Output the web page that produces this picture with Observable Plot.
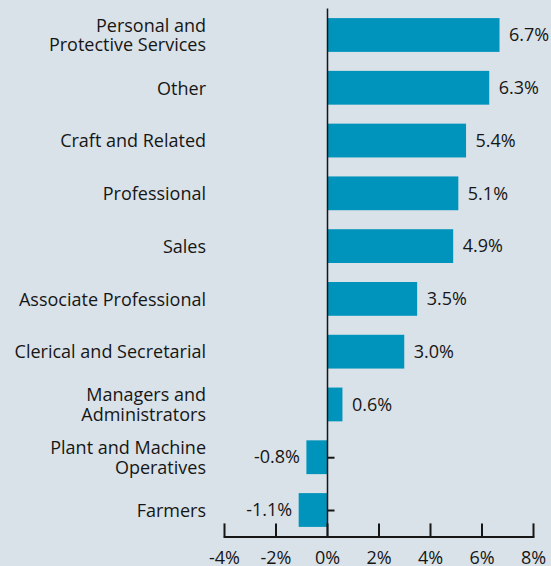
<!DOCTYPE html>
<html>
<head>
<meta charset="utf-8">
<script src="https://cdn.jsdelivr.net/npm/d3@7"></script>
<script src="https://cdn.jsdelivr.net/npm/@observablehq/plot@0.6"></script>
<style>
  html, body { margin: 0; padding: 0; background: #d9e2e8; }
  #chart svg { display: block; }
</style>
</head>
<body>
<div id="chart"></div>
<script>
const categories = [
  "Personal and\nProtective Services",
  "Other",
  "Craft and Related",
  "Professional",
  "Sales",
  "Associate Professional",
  "Clerical and Secretarial",
  "Managers and\nAdministrators",
  "Plant and Machine\nOperatives",
  "Farmers"
];
const values = [6.7, 6.3, 5.4, 5.1, 4.9, 3.5, 3.0, 0.6, -0.8, -1.1];
const xTicks = [-4, -2, 0, 2, 4, 6, 8];

const data = categories.map((c, i) => ({category: c, value: values[i]}));
const positives = data.filter(d => d.value >= 0);
const negatives = data.filter(d => d.value < 0);

const barColor = "#0093bb";
const ink = "#161616";
const font = "'Open Sans', sans-serif";
const fmt = d => d.value.toFixed(1) + "%";

// short horizontal tick drawn to the right of the zero line
const rightTick = {
  draw(context, size) {
    context.moveTo(0, 0);
    context.lineTo(7, 0);
  }
};

const chart = Plot.plot({
  width: 551,
  height: 566,
  marginLeft: 224,
  marginRight: 18,
  marginTop: 8.6,
  marginBottom: 29.6,
  style: {background: "#d9e2e8", fontFamily: font, fontSize: "18px", color: ink, overflow: "visible"},
  x: {domain: [-4, 8], ticks: xTicks, tickFormat: d => d + "%", label: null},
  y: {domain: categories, paddingInner: 0.36, paddingOuter: 0.18, round: false, axis: null},
  marks: [
    Plot.barX(data, {x: "value", y: "category", fill: barColor}),
    Plot.ruleX([0], {stroke: ink, strokeWidth: 1.5}),
    Plot.dot(negatives, {x: 0, y: "category", symbol: rightTick, r: 4, stroke: ink, strokeWidth: 2, fill: "none"}),
    Plot.text(data, {
      y: "category", text: "category", frameAnchor: "left", dx: -18.5, textAnchor: "end",
      fontSize: 18, fill: ink, lineHeight: 1.08
    }),
    Plot.text(positives, {x: "value", y: "category", text: fmt, textAnchor: "start", dx: 9, fontSize: 18, fill: ink}),
    Plot.text(negatives, {x: "value", y: "category", text: fmt, textAnchor: "end", dx: -7, fontSize: 18, fill: ink}),
    Plot.axisX({anchor: "bottom", ticks: xTicks, label: null, tickSize: -13, tickPadding: 27, tickFormat: d => d + "%", strokeWidth: 2, fontSize: 18, fill: ink, stroke: ink}),
    Plot.frame({anchor: "bottom", stroke: ink, strokeWidth: 2})
  ]
});

document.getElementById("chart").appendChild(chart);
</script>
</body>
</html>
